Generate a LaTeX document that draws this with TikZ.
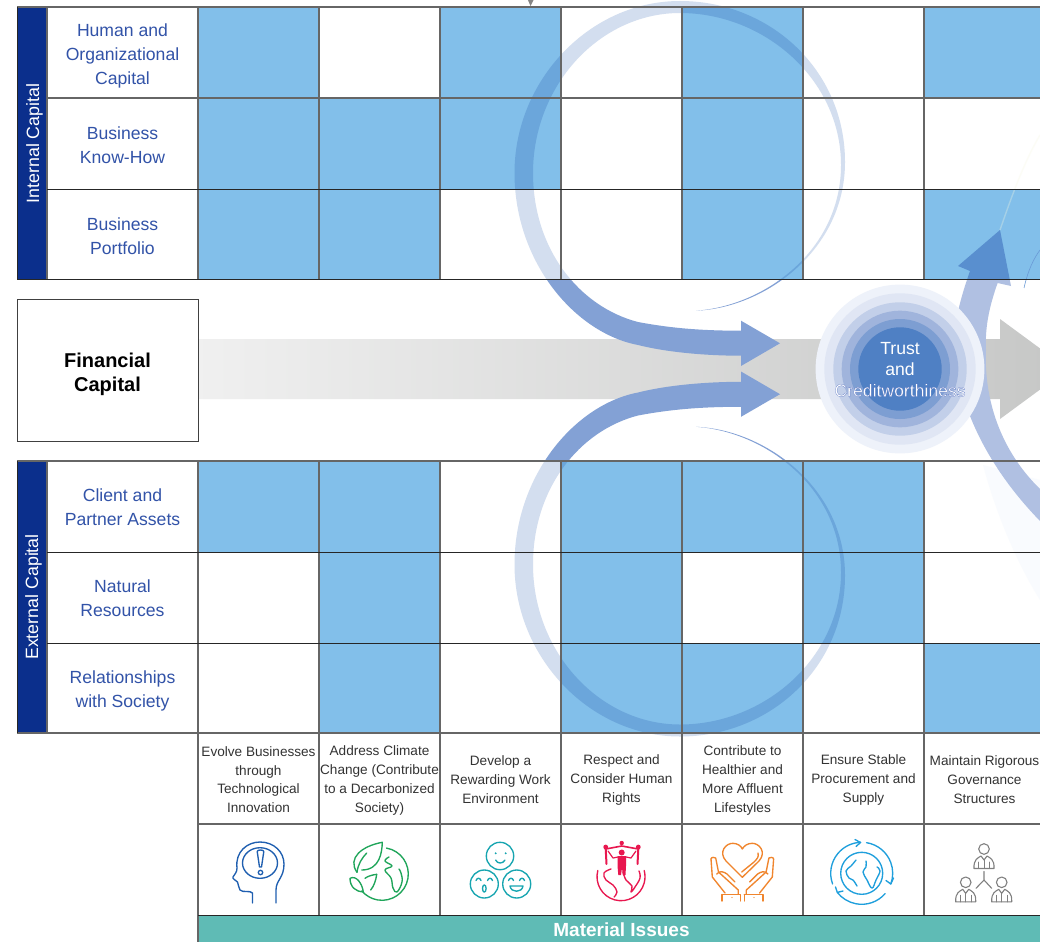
\documentclass[tikz,border=0pt]{standalone}
\usepackage{fontspec}
\setmainfont{Liberation Sans}
\usetikzlibrary{calc}
\definecolor{cellblue}{HTML}{82BFEA}
\definecolor{navy}{HTML}{0B2F8C}
\definecolor{labelblue}{HTML}{3253A8}
\definecolor{gridgray}{HTML}{666666}
\definecolor{teal}{HTML}{5FBBB5}
\definecolor{palearc}{HTML}{D3DEEF}
\definecolor{darkarc}{HTML}{83A1D5}
\definecolor{bandarc}{HTML}{B0C0E2}
\definecolor{iconblue}{HTML}{1F5FB0}
\definecolor{icongreen}{HTML}{1FA55A}
\definecolor{iconteal}{HTML}{17A5B0}
\definecolor{iconred}{HTML}{E8174F}
\definecolor{iconorange}{HTML}{F0852D}
\definecolor{iconcyan}{HTML}{1F9FDC}
\definecolor{icongray}{HTML}{808080}
\tikzset{
  cellfill/.style={fill=cellblue,draw=none},
  rowlabel/.style={text=labelblue,font=\fontsize{17.6}{24}\selectfont,align=center,inner sep=0pt},
  sidelabel/.style={text=white,font=\fontsize{17.8}{21}\selectfont,rotate=90,inner sep=0pt},
  issue/.style={text=black!80,font=\fontsize{13.6}{18.8}\selectfont,align=center,inner sep=0pt},
  gridline/.style={draw=gridgray,line width=1.1pt},
  darkline/.style={draw=black!85,line width=1pt},
  iconline/.style={line width=1.35pt,line cap=round,line join=round,fill=none},
}
\newcommand{\cellat}[2]{\fill[cellfill] ({198+121*(#1-1)},#2) rectangle ++(121,91);}
\newcommand{\loopshape}{(696,310.7) .. controls (765,308) and (845,250) .. (845,162) .. controls (845,70) and (770,1) .. (680,1) .. controls (590,1) and (514.5,80) .. (514.5,173) .. controls (514.5,262) and (575,333) .. (638,345) .. controls (670,353) and (710,355.7) .. (741,355.7) -- (741,366) -- (780,343.3) -- (741,320.7) -- (741,330.7) .. controls (700,330.7) and (670,328) .. (638,322) .. controls (580,307) and (533,250) .. (533,173) .. controls (533,85) and (600,13) .. (680,13) .. controls (765,13) and (841,80) .. (841,165) .. controls (841,250) and (765,306) .. (696,310.7) -- cycle}
\newcommand{\bandshape}{(970,271) -- (958,266) -- (1000,230) -- (1011,286) -- (997.6,283) .. controls (988,310) and (985,330) .. (986,350) .. controls (984,390) and (995,445) .. (1040,489) -- (1075,525) -- (1075,555) -- (1040,521) .. controls (1005,485) and (965,430) .. (955,360) .. controls (951,335) and (958,305) .. (970,271) -- cycle}
\newcommand{\loopband}[1]{%
  \begin{scope}
    \clip (0,-20) rectangle (1040,#1);
    \fill[palearc,blend mode=multiply] \loopshape;
  \end{scope}
  \begin{scope}
    \clip (0,#1) rectangle (1040,500);
    \fill[darkarc] \loopshape;
  \end{scope}}
\newcommand{\persona}[2]{%
  \draw[iconline,icongray,line width=1.1pt] (#1,#2) circle (5.3);
  \draw[iconline,icongray,line width=1.1pt] ({#1-10},{#2+19.5}) .. controls ({#1-10.5},{#2+10}) and ({#1-6},{#2+9}) .. ({#1-3},{#2+7}) -- (#1,{#2+11}) -- ({#1+3},{#2+7}) .. controls ({#1+6},{#2+9}) and ({#1+10.5},{#2+10}) .. ({#1+10},{#2+19.5}) -- cycle;
  \draw[iconline,icongray,line width=.9pt] ({#1-5.5},{#2+13}) -- ({#1-5.5},{#2+19.5}) ({#1+5.5},{#2+13}) -- ({#1+5.5},{#2+19.5}) (#1,{#2+11}) -- (#1,{#2+19.5});}
\begin{document}
\begin{tikzpicture}[x=1pt,y=-1pt]
\useasboundingbox (0,0) rectangle (1040,942);
\clip (0,0) rectangle (1040,942);
\fill[white] (0,0) rectangle (1040,942);
% filled cells
\foreach \c in {1,3,5,7} {\cellat{\c}{7}}
\foreach \c in {1,2,3,5} {\cellat{\c}{98}}
\foreach \c in {1,2,5,7} {\cellat{\c}{189}}
\foreach \c in {1,2,4,5,6} {\cellat{\c}{461}}
\foreach \c in {2,4,6} {\cellat{\c}{552}}
\foreach \c in {2,4,5,7} {\cellat{\c}{643}}
% side bars
\fill[navy] (17,7) rectangle (47,279);
\fill[navy] (17,461) rectangle (47,733);
\fill[teal] (198,915) rectangle (1040,942);
% gray main arrow
\shade[left color=black!6,middle color={rgb,255:red,222;green,223;blue,222},right color={rgb,255:red,198;green,199;blue,198}]
  (198,339) -- (1000,339) -- (1000,319) -- (1068,369) -- (1000,419) -- (1000,399) -- (198,399) -- cycle;
% faint shapes at the right
\fill[fill={rgb,255:red,249;green,251;blue,254}] (983,465) .. controls (995,510) and (1015,560) .. (1040,600) -- (1040,480) -- cycle;
\draw[line width=1.4pt,draw={rgb,255:red,246;green,248;blue,226},opacity=.3] (1000,230) .. controls (1012,195) and (1025,160) .. (1040,135);
\draw[line width=.6pt,draw={rgb,255:red,106;green,154;blue,214}] (1024,288) .. controls (1028,270) and (1034,258) .. (1040,250);
% big right band
\begin{scope}
  \clip (900,180) rectangle (1040,279);
  \fill[bandarc,blend mode=multiply] \bandshape;
\end{scope}
\begin{scope}
  \clip (900,279) rectangle (1040,620);
  \fill[bandarc] \bandshape;
\end{scope}
% loops
\loopband{279}
\begin{scope}[yshift=-737.5pt,y=1pt]
  \loopband{276.5}
\end{scope}
% trust rings
\fill[fill={rgb,255:red,238;green,242;blue,250}] (900,369) circle (84.4);
\fill[fill={rgb,255:red,224;green,230;blue,244}] (900,369) circle (75.7);
\fill[fill={rgb,255:red,194;green,207;blue,233}] (900,369) circle (66.7);
\fill[fill={rgb,255:red,160;green,180;blue,220}] (900,369) circle (58.3);
\fill[fill={rgb,255:red,125;green,158;blue,210}] (900,369) circle (50);
\fill[fill={rgb,255:red,79;green,128;blue,196}] (900,369) circle (41.7);
\node[text=white,font=\fontsize{17.6}{21}\selectfont,align=center,inner sep=0pt] (trust) at (900,369.6)
  {Trust\\and\\\special{pdf:code q 2 Tr 0.16 w 0.24 0.36 0.72 RG}Creditworthiness\special{pdf:code Q}};
% small pointer at the top
\fill[gridgray!80] (527.5,-1) -- (534,-1) -- (530.5,6) -- cycle;
% grid
\foreach \x in {47,198,319,440,561,682,803,924} {
  \draw[gridline] (\x,7) -- (\x,279);
  \draw[gridline] (\x,461) -- (\x,733);
}
\foreach \x in {198,319,440,561,682,803,924} \draw[gridline] (\x,733) -- (\x,915);
\draw[gridline] (198,915) -- (198,942);
\draw[gridline] (17,7) -- (1040,7);
\draw[gridline] (47,98) -- (1040,98);
\draw[darkline] (47,189) -- (1040,189);
\draw[darkline] (17,279) -- (1040,279);
\draw[gridline] (17,461) -- (1040,461);
\draw[darkline] (47,552) -- (1040,552);
\draw[darkline] (47,643) -- (1040,643);
\draw[gridline] (17,733) -- (1040,733);
\draw[gridline] (198,824) -- (1040,824);
\draw[darkline] (198,915) -- (1040,915);
\draw[draw=black!85,line width=1pt] (17,7) -- (17,279) (17,461) -- (17,733);
\draw[draw=black!75,line width=1pt] (17,299) rectangle (198,441);
% labels
\node[sidelabel] (internal) at (34.5,143.5) {Internal Capital};
\node[sidelabel] (external) at (33.5,597) {External Capital};
\node[rowlabel] (r1) at (122.5,55.5) {Human and\\Organizational\\Capital};
\node[rowlabel] (r2) at (122.5,145.5) {Business\\Know-How};
\node[rowlabel] (r3) at (122.5,236.5) {Business\\Portfolio};
\node[rowlabel] (r4) at (122.5,507.5) {Client and\\Partner Assets};
\node[rowlabel] (r5) at (122.5,598.5) {Natural\\Resources};
\node[rowlabel] (r6) at (122.5,690.5) {Relationships\\with Society};
\node[font=\fontsize{20}{24}\selectfont\bfseries,align=center,inner sep=0pt] (fin) at (107.5,374) {Financial\\Capital};
\node[issue] (i1) at (258.5,779.7) {Evolve Businesses\\through\\Technological\\Innovation};
\node[issue] (i2) at (379.5,780.5) {Address Climate\\Change (Contribute\\to a Decarbonized\\Society)};
\node[issue] (i3) at (500.5,779.5) {Develop a\\Rewarding Work\\Environment};
\node[issue] (i4) at (621.5,780) {Respect and\\Consider Human\\Rights};
\node[issue] (i5) at (742.5,780.5) {Contribute to\\Healthier and\\More Affluent\\Lifestyles};
\node[issue] (i6) at (863.5,780) {Ensure Stable\\Procurement and\\Supply};
\node[issue] (i7) at (984.5,779.5) {Maintain Rigorous\\Governance\\Structures};
\node[text=white,font=\fontsize{19}{22}\selectfont\bfseries,inner sep=0pt] (mat) at (621.5,930) {Material Issues};
% icon: head
\begin{scope}[iconline,iconblue]
  \draw (252.5,903) -- (252.5,893) .. controls (250,890) and (243,893) .. (240,890) .. controls (238,887) and (239,885) .. (237.5,882) .. controls (236,880) and (232,879) .. (233,877) .. controls (235,874) and (237,872) .. (237,868) .. controls (235,852) and (247,842) .. (260,842) .. controls (274,842) and (284,852) .. (284,864) .. controls (284,878) and (276,880) .. (276,890) -- (276,903);
  \draw (260,863) ellipse (17.5 and 15.3);
  \draw (257.2,851.5) .. controls (257.2,849.5) and (263.8,849.5) .. (263.8,851.5) -- (261.5,867) -- (259.5,867) -- cycle;
  \draw (260.5,872.5) circle (2.2);
\end{scope}
% icon: green earth
\begin{scope}[iconline,icongreen]
  \draw ([shift={(382,874)}]-80:26.3) arc[start angle=-80,end angle=140,radius=26.3];
  \draw (357,872.3) .. controls (347,858) and (362,846) .. (382.3,842.3) .. controls (382,852) and (380,870) .. (361.7,870);
  \draw (357,872.3) .. controls (358,864) and (362,858) .. (366.7,853);
  \draw (350,878.3) .. controls (356,875) and (362,883) .. (363.3,891.7) .. controls (356,892) and (350,887) .. (350,878.3);
  \draw (376.7,874.3) .. controls (372,875) and (368,876) .. (365,878.3);
  \draw (376.7,874.3) .. controls (376,880) and (374,886) .. (370.7,890);
  \draw plot[smooth,tension=.7] coordinates {(389,857) (385,861) (392,866) (385,870) (391,878) (393,888) (397,892) (402,882) (401,873) (399,869)};
\end{scope}
% icon: faces
\begin{scope}[iconline,iconteal]
  \draw (500,856) circle (13.7);
  \draw (484.3,884) circle (14);
  \draw (516.7,884) circle (14);
  \fill (495.7,853.3) circle (1.1) (505.7,853.3) circle (1.1);
  \draw (495.7,860) .. controls (497,864) and (503,864) .. (505,860);
  \draw (476,880.5) .. controls (477,877.5) and (480,877.5) .. (481,880.5);
  \draw (487.5,880.5) .. controls (488.5,877.5) and (491.5,877.5) .. (492.5,880.5);
  \draw (484.3,888.5) ellipse (1.8 and 3.6);
  \draw (508.5,880.5) .. controls (509.5,877.5) and (512.5,877.5) .. (513.5,880.5);
  \draw (519.5,880.5) .. controls (520.5,877.5) and (523.5,877.5) .. (524.5,880.5);
  \draw (510,886) -- (523,886) .. controls (522,893) and (511,893) .. (510,886) -- cycle;
\end{scope}
% icon: people on globe
\begin{scope}[iconline,iconred]
  \draw ([shift={(621,876.7)}]-165:24) arc[start angle=-165,end angle=-375,radius=24];
  \draw plot[smooth,tension=.7] coordinates {(611,869) (604,873) (606,880) (613,885) (617,892) (614,897)};
  \draw plot[smooth,tension=.7] coordinates {(623,872) (626,880) (632,886) (631,892) (635,887) (640,878) (639,871)};
  \fill (605.7,847) circle (2.4) (621.7,843) circle (2.2) (638.3,847) circle (2.4) (621.7,852.5) circle (3);
  \draw[line width=1.6pt] (605.7,849) -- (621.7,846) -- (638.3,849);
  \draw[line width=2pt] (605.7,849) -- (606.5,864) (638.3,849) -- (637.5,864);
  \draw[line width=1.2pt] (608,851) -- (613,858) -- (618,857) (636,851) -- (631,858) -- (626,857);
  \fill (617.5,856) -- (626,856) -- (626,866) -- (625.5,875) -- (622.8,875) -- (622,868) -- (621,875) -- (618.3,875) -- (617.5,866) -- cycle;
\end{scope}
% icon: hands and heart
\begin{scope}[iconline,iconorange]
  \draw (742.3,877.3) -- (726,861) .. controls (718,852) and (726,843) .. (733,843.3) .. controls (738,843.5) and (741,846) .. (742.3,849) .. controls (744,846) and (747,843.5) .. (752,843.3) .. controls (759,843) and (767,852) .. (759,861) -- cycle;
  \draw (758,853) .. controls (759,857) and (757,859) .. (754,862) -- (741.7,872);
  \draw (711,859) .. controls (711,857) and (715,857) .. (715.7,858) -- (718.5,872) -- (738.3,890) -- (738.3,894);
  \draw (711,859) -- (712.3,877) -- (725,893) ;
  \draw (716.7,874) .. controls (720,870) and (724,872) .. (727,874) -- (735,882);
  \draw (722,894.5) -- (722,901) (722,894.5) -- (740.7,894.5) -- (740.7,901);
  \draw (773.6,859) .. controls (773.6,857) and (769.6,857) .. (768.9,858) -- (766.1,872) -- (746.3,890) -- (746.3,894);
  \draw (773.6,859) -- (772.3,877) -- (759.6,893);
  \draw (767.9,874) .. controls (764.6,870) and (760.6,872) .. (757.6,874) -- (749.6,882);
  \draw (744.3,894.5) -- (744.3,901) (744.3,894.5) -- (762.9,894.5) -- (762.9,901);
  \fill (732,897.5) circle (.7) (754,897.5) circle (.7);
\end{scope}
% icon: cycling earth
\begin{scope}[iconline,iconcyan]
  \draw (861.7,873.3) circle (21);
  \draw ([shift={(861.7,873.3)}]-200:31) arc[start angle=-200,end angle=-92,radius=31];
  \draw (860.5,842.5) -- (855,839.5) (860.5,842.5) -- (856,846.5);
  \draw ([shift={(861.7,873.3)}]-81:31) arc[start angle=-81,end angle=20,radius=31];
  \draw (890.8,884) -- (893.5,878) (890.8,884) -- (886,880.5);
  \draw ([shift={(861.7,873.3)}]41:31) arc[start angle=41,end angle=142,radius=31];
  \draw (837.3,892.4) -- (835.5,887) (837.3,892.4) -- (843,891);
  \draw plot[smooth,tension=.7] coordinates {(856,860) (851,866) (846,871) (849,878) (853,880) (857,886)};
  \draw plot[smooth,tension=.7] coordinates {(866,861) (866,867) (863,872) (867,880) (872,888) (876,880) (880,871) (877,867)};
\end{scope}
% icon: people
\persona{984}{849}
\persona{965.7}{882.3}
\persona{1001.7}{882.3}
\draw[iconline,icongray,line width=1.1pt] (984,871.5) -- (984,880) (976,888.3) -- (984,880) -- (991.7,888.3);
\end{tikzpicture}
\end{document}
